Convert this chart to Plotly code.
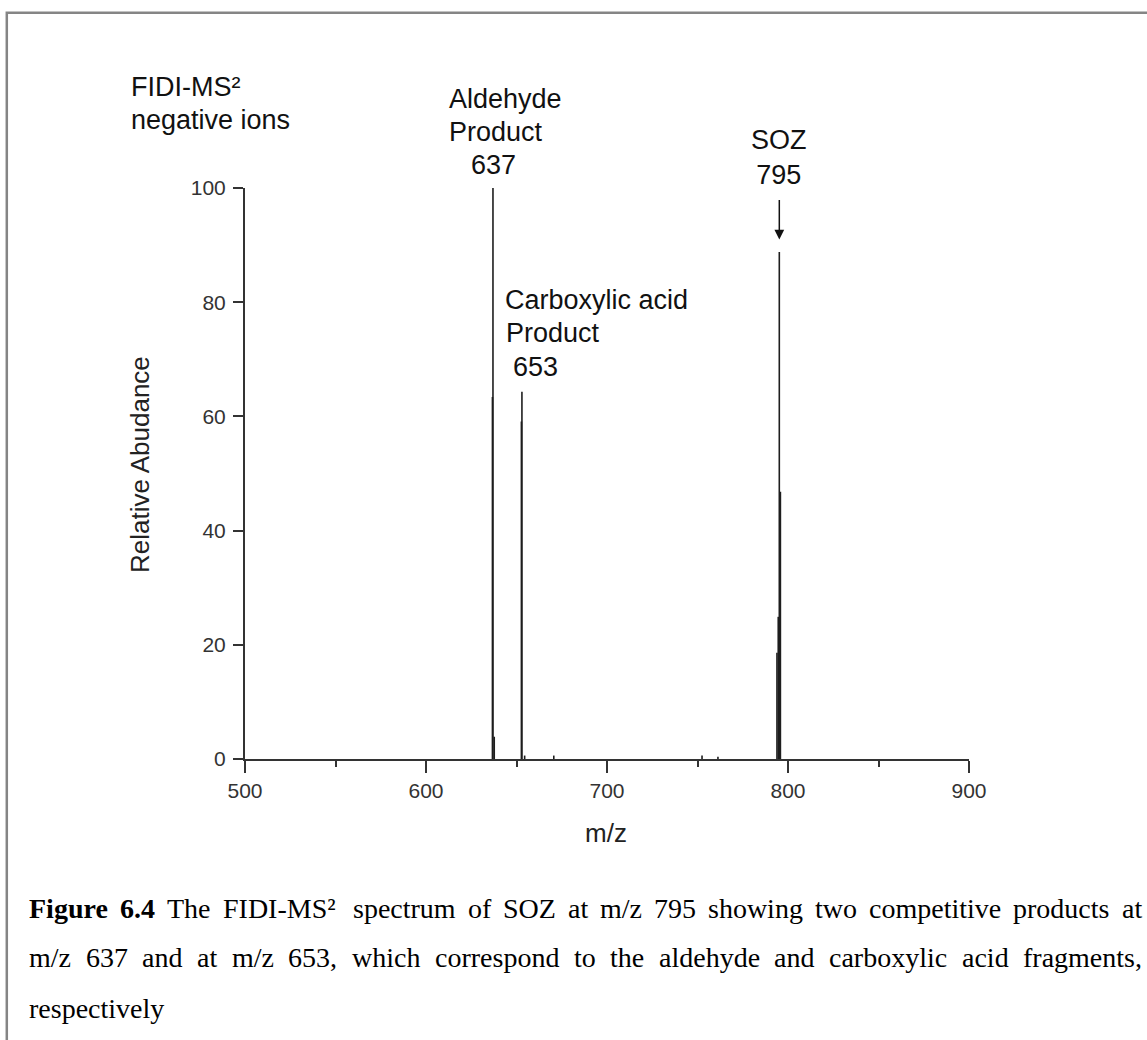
import plotly.graph_objects as go

# ---------------- data ----------------
mz = [636.7, 637.0, 637.7, 652.7, 653.0, 654.5, 670.6, 752.5, 761.3,
      793.9, 794.6, 795.2, 795.8]
abundance = [63.4, 100.0, 3.9, 59.1, 64.3, 0.6, 0.6, 0.6, 0.4,
             18.6, 24.9, 88.8, 46.8]
x_ticks = [500, 600, 700, 800, 900]
y_ticks = [0, 20, 40, 60, 80, 100]
soz_mz = 795.2

caption_lines = [
    "**Figure **6.4 The FIDI-MS² spectrum of SOZ at m/z 795 showing two competitive products at",
    "m/z 637 and at m/z 653, which correspond to the aldehyde and carboxylic acid fragments,",
    "respectively",
]

# ---------------- layout geometry (pixels) ----------------
W, H = 1147, 1040
L, R, T, B = 245, 969, 188, 759   # plot area edges


def px(x):
    return (x - L) / (R - L)


def py(y):
    return (B - y) / (B - T)


# stick spectrum
xs, ys = [], []
for m, a in zip(mz, abundance):
    xs += [m, m, None]
    ys += [0, a, None]

fig = go.Figure()
fig.add_trace(go.Scatter(x=xs, y=ys, mode="lines",
                         line=dict(color="#1e1e1e", width=1.6),
                         hoverinfo="skip", showlegend=False))

SANS = "Liberation Sans, Arial, sans-serif"
SERIF = "Liberation Serif, Times New Roman, serif"
axis_col = "#333333"

fig.update_layout(
    width=W, height=H,
    margin=dict(l=L, r=W - R, t=T, b=H - B, pad=0),
    paper_bgcolor="white", plot_bgcolor="white",
    showlegend=False,
    xaxis=dict(range=[500, 900], tickvals=x_ticks, showgrid=False, zeroline=False,
               showline=True, linecolor=axis_col, linewidth=2,
               ticks="outside", ticklen=12, tickwidth=2, tickcolor=axis_col,
               minor=dict(dtick=50, tick0=500, ticks="outside", ticklen=6,
                          tickwidth=2, tickcolor=axis_col, showgrid=False),
               tickfont=dict(family=SANS, size=21, color=axis_col),
               ticklabelstandoff=0),
    yaxis=dict(range=[0, 100], tickvals=y_ticks, showgrid=False, zeroline=False,
               showline=True, linecolor=axis_col, linewidth=2,
               ticks="outside", ticklen=10, tickwidth=2, tickcolor=axis_col,
               tickfont=dict(family=SANS, size=21, color=axis_col),
               ticklabelstandoff=3),
)

ann = []


def text(x, y, s, size=27, family=SANS, xanchor="left", color="#111111", angle=0):
    ann.append(dict(xref="paper", yref="paper", x=px(x), y=py(y), text=s,
                    showarrow=False, xanchor=xanchor, yanchor="middle",
                    textangle=angle,
                    font=dict(family=family, size=size, color=color)))


# axis titles
text(606, 833, "m/z", size=26, xanchor="center", color="#222222")
text(140, 465, "Relative Abudance", size=26, xanchor="center", color="#222222", angle=-90)

# in-plot labels
text(129, 87, "FIDI-MS²")
text(129, 120, "negative ions")
text(447, 99, "Aldehyde")
text(447, 132, "Product")
text(469, 165, "637")
text(503, 300, "Carboxylic acid")
text(504, 333, "Product")
text(511, 367, "653")

# SOZ label with its arrow pointing straight down at the peak
ann.append(dict(xref="x", yref="y", axref="x", ayref="y",
                x=soz_mz, y=91.0, ax=soz_mz, ay=(B - 157) / (B - T) * 100,
                text="SOZ<br>795", align="center",
                font=dict(family=SANS, size=27, color="#111111"),
                showarrow=True, arrowhead=2, arrowsize=1.3, arrowwidth=1.5,
                arrowcolor="#111111", standoff=0, startstandoff=9))

# ---------------- justified caption (Times metrics, 1/1000 em) ----------------
TIMES = {' ': 250, ',': 250, '.': 250, '/': 278, '-': 333, '²': 300,
         'A': 722, 'B': 667, 'C': 667, 'D': 722, 'E': 611, 'F': 556, 'G': 722,
         'H': 722, 'I': 333, 'M': 889, 'O': 722, 'S': 556, 'T': 611, 'Z': 611,
         'a': 444, 'b': 500, 'c': 444, 'd': 500, 'e': 444, 'f': 333, 'g': 500,
         'h': 500, 'i': 278, 'l': 278, 'm': 778, 'n': 500, 'o': 500, 'p': 500,
         'r': 333, 's': 389, 't': 278, 'u': 500, 'v': 500, 'w': 722, 'x': 500,
         'y': 500, 'z': 444}
TIMES_BOLD = {'F': 611, 'i': 278, 'g': 500, 'u': 556, 'r': 444, 'e': 444,
              '.': 250, ' ': 250}
CAP_SIZE = 28
CAP_LEFT, CAP_RIGHT = 28, 1141
CAP_Y = [908.5, 957, 1008]


def word_width(w, bold=False):
    tot = 0.0
    for ch in w:
        if ch.isdigit():
            cw = 500
        else:
            cw = (TIMES_BOLD if bold else TIMES).get(ch, 500)
        tot += cw
    return tot / 1000.0 * CAP_SIZE


def word_html(w, bold=False):
    return '<b>' + w + '</b>' if bold else w


for li, line in enumerate(caption_lines):
    if line.startswith("**"):
        bold_part, line = line[2:].split("**", 1)
        bold_words = bold_part.split() + line.split()[:1]
        rest = line.split()[1:]
        words = [(w, True) for w in bold_words] + [(w, False) for w in rest]
    else:
        words = [(w, False) for w in line.split()]
    widths = [word_width(w, b) for w, b in words]
    if li < len(caption_lines) - 1 and len(words) > 1:
        gap = (CAP_RIGHT - CAP_LEFT - sum(widths)) / (len(words) - 1)
    else:
        gap = TIMES[' '] / 1000.0 * CAP_SIZE
    xcur = CAP_LEFT
    for (w, b), ww in zip(words, widths):
        text(xcur - 1, CAP_Y[li], word_html(w, b), size=CAP_SIZE, family=SERIF, color="black")
        xcur += ww + gap

fig.update_layout(annotations=ann)

# page frame
fig.add_shape(type="rect", xref="paper", yref="paper",
              x0=px(6.8), y0=py(12.8), x1=px(1200), y1=py(1100),
              line=dict(color="#858585", width=2.5), fillcolor="rgba(0,0,0,0)",
              layer="below")

fig.write_html("out.html", config={"displayModeBar": False})
